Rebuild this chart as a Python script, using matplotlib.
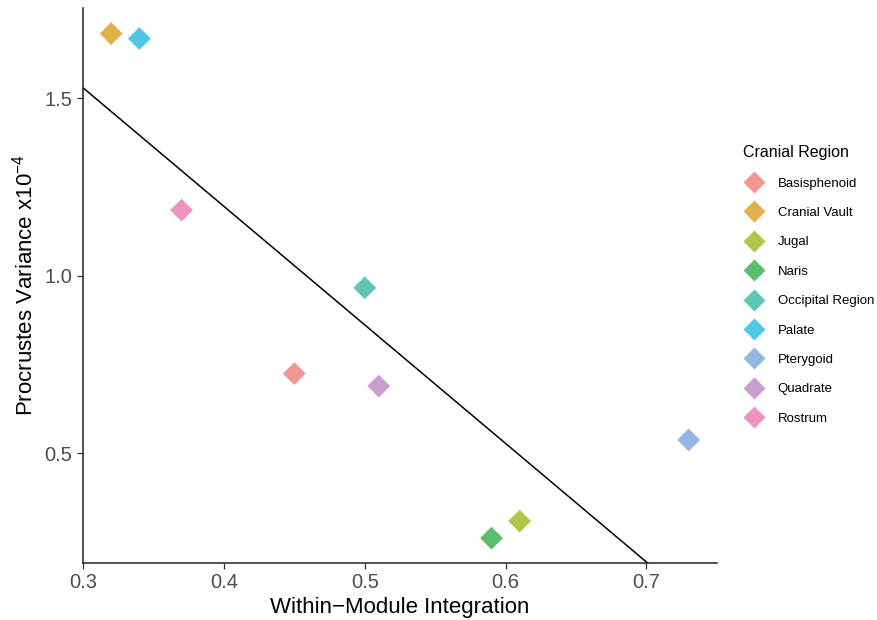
import matplotlib
matplotlib.use("Agg")
import matplotlib.pyplot as plt
from matplotlib.lines import Line2D
import numpy as np

plt.rcParams.update({
    "font.family": ["Liberation Sans", "DejaVu Sans"],
    "mathtext.fontset": "custom",
    "mathtext.rm": "Liberation Sans",
    "mathtext.it": "Liberation Sans:italic",
})

# data
regions = ["Basisphenoid", "Cranial Vault", "Jugal", "Naris", "Occipital Region",
           "Palate", "Pterygoid", "Quadrate", "Rostrum"]
integration = [0.45, 0.32, 0.61, 0.59, 0.50, 0.34, 0.73, 0.51, 0.37]
variance = [0.724, 1.683, 0.308, 0.260, 0.966, 1.669, 0.537, 0.689, 1.185]
colors = ["#F4968F", "#E0B04A", "#B2C44A", "#5BBE6E", "#5EC6B2",
          "#4FC8E4", "#94B6E0", "#C89ECC", "#EE92C2"]

fig = plt.figure(figsize=(8.78, 6.20), dpi=100)
ax = fig.add_axes([0.0945, 0.092, 0.722, 0.895])

ax.set_xlim(0.3, 0.75)
ax.set_ylim(0.19, 1.755)

# least-squares fit line across the panel
slope, icpt = np.polyfit(integration, variance, 1)
xs = np.array([0.3, 0.75])
ax.plot(xs, icpt + slope * xs, color="black", lw=1.1, zorder=1)

for x, y, c in zip(integration, variance, colors):
    ax.scatter(x, y, marker="D", s=135, color=c, edgecolor="none", zorder=2)

ax.set_xticks([0.3, 0.4, 0.5, 0.6, 0.7])
ax.set_yticks([0.5, 1.0, 1.5])
ax.tick_params(labelsize=14.5, labelcolor="#4D4D4D", color="#333333",
               length=4, width=0.9)
ax.spines[["top", "right"]].set_visible(False)
for s in ["left", "bottom"]:
    ax.spines[s].set_linewidth(1.1)
    ax.spines[s].set_color("#222222")

ax.set_xlabel("Within\u2212Module Integration", fontsize=16, labelpad=3)
ax.set_ylabel(r"Procrustes Variance x10$^{-4}$", fontsize=16, labelpad=5)

handles = [Line2D([], [], ls="none", marker="D", ms=11, color=c, mec="none")
           for c in colors]
leg = fig.legend(handles, regions, title="Cranial Region", loc="upper left",
                 bbox_to_anchor=(0.833, 0.785), frameon=False, fontsize=9.5,
                 title_fontsize=11.5, labelspacing=1.3, handletextpad=1.0,
                 handlelength=1.6)
leg._legend_box.align = "left"

fig.savefig("out.png", dpi=100)
